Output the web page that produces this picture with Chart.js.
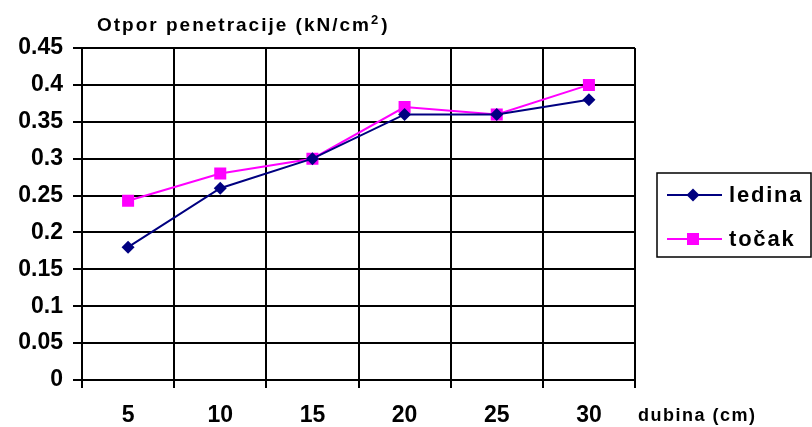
<!DOCTYPE html>
<html lang="sr">
<head>
<meta charset="UTF-8">
<title>Otpor penetracije</title>
<script src="https://cdn.jsdelivr.net/npm/chart.js"></script>
<style>
  body { margin: 0; background: #fff; }
  #wrap { width: 812px; height: 427px; }
</style>
</head>
<body>
<div id="wrap"><canvas id="grafik" width="812" height="427"></canvas></div>
<script>
    // podaci
    const dubine = ['5', '10', '15', '20', '25', '30'];
    const ledina = [0.18, 0.26, 0.30, 0.36, 0.36, 0.38];
    const tocak = [0.243, 0.28, 0.30, 0.37, 0.36, 0.40];
    const naslov = 'Otpor penetracije (kN/cm';
    const osaX = 'dubina (cm)';

    const porodica = '"Liberation Sans", Arial, sans-serif';

    // naslov, oznaka ose i legenda
    const tekstovi = {
        id: 'tekstovi',
        afterDraw(chart) {
            const ctx = chart.ctx;
            ctx.save();
            ctx.fillStyle = '#000';
            ctx.textBaseline = 'alphabetic';
            ctx.letterSpacing = '2px';
            ctx.font = 'bold 19px ' + porodica;
            ctx.fillText(naslov, 97, 31);
            let x = 97 + ctx.measureText(naslov).width;
            ctx.font = 'bold 13px ' + porodica;
            ctx.fillText('2', x, 24);
            x += ctx.measureText('2').width + 1;
            ctx.font = 'bold 19px ' + porodica;
            ctx.fillText(')', x, 31);

            ctx.letterSpacing = '1.5px';
            ctx.font = 'bold 18px ' + porodica;
            ctx.fillText(osaX, 638, 421);

            // legenda
            ctx.lineWidth = 1.5;
            ctx.strokeStyle = '#000';
            ctx.strokeRect(657, 173, 154, 84);
            ctx.textBaseline = 'middle';
            ctx.font = 'bold 22px ' + porodica;
            ctx.letterSpacing = '1.8px';
            chart.data.datasets.forEach(function (ds, i) {
                const y = 195 + i * 44;
                ctx.strokeStyle = ds.borderColor;
                ctx.lineWidth = 2;
                ctx.beginPath();
                ctx.moveTo(667, y);
                ctx.lineTo(722, y);
                ctx.stroke();
                ctx.fillStyle = ds.backgroundColor;
                Chart.helpers.drawPoint(ctx, { pointStyle: ds.pointStyle, radius: ds.pointRadius, rotation: 0, borderWidth: 0 }, 693, y);
                ctx.fillStyle = '#000';
                ctx.fillText(ds.label, 729, y + 1);
            });
            ctx.restore();
        }
    };

    const fontOsa = { size: 23, weight: 'bold', family: porodica };

    new Chart(document.getElementById('grafik'), {
        type: 'line',
        data: {
            labels: dubine,
            datasets: [
                {
                    label: 'ledina',
                    data: ledina,
                    borderColor: '#000080',
                    backgroundColor: '#000080',
                    borderWidth: 2,
                    pointStyle: 'rectRot',
                    pointRadius: 6.5,
                    pointBorderWidth: 0,
                    tension: 0
                },
                {
                    label: 'točak',
                    data: tocak,
                    borderColor: '#FF00FF',
                    backgroundColor: '#FF00FF',
                    borderWidth: 2,
                    pointStyle: 'rect',
                    pointRadius: 8.5,
                    pointBorderWidth: 0,
                    tension: 0
                }
            ]
        },
        options: {
            responsive: false,
            animation: false,
            layout: { padding: { top: 48, right: 177, left: 0, bottom: 0 } },
            plugins: {
                legend: { display: false },
                title: { display: false },
                tooltip: { enabled: false }
            },
            scales: {
                x: {
                    offset: true,
                    afterFit(scale) { scale.height = 47; },
                    grid: { offset: true, color: '#000', lineWidth: 2, tickLength: 8 },
                    border: { color: '#000', width: 2 },
                    ticks: { color: '#000', font: fontOsa, padding: 14, maxRotation: 0 }
                },
                y: {
                    min: 0,
                    max: 0.45,
                    afterFit(scale) { scale.width = 82; },
                    grid: { color: '#000', lineWidth: 2, tickLength: 9 },
                    border: { color: '#000', width: 2 },
                    ticks: {
                        stepSize: 0.05,
                        color: '#000',
                        padding: 10,
                        font: fontOsa,
                        callback: function (v) { return String(+v.toFixed(2)); }
                    }
                }
            }
        },
        plugins: [tekstovi]
    });
</script>
</body>
</html>
